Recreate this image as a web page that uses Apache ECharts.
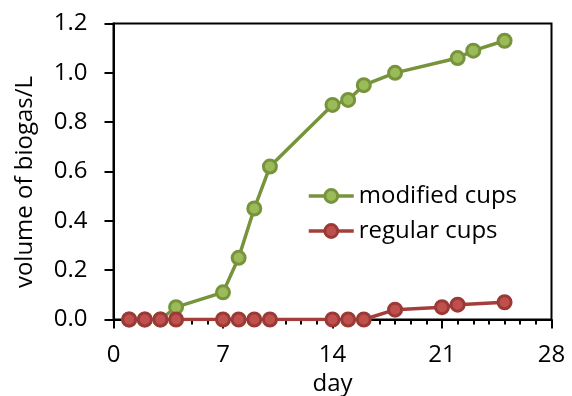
<!DOCTYPE html>
<html><head><meta charset="utf-8">
<script src="https://cdn.jsdelivr.net/npm/echarts@6/dist/echarts.min.js"></script>
<style>html,body{margin:0;padding:0;background:#fff}#c{width:572px;height:396px}</style>
</head><body><div id="c"></div>
<script>
const modifiedDays = [1, 2, 3, 4, 7, 8, 9, 10, 14, 15, 16, 18, 22, 23, 25];
const modifiedVals = [0, 0, 0, 0.05, 0.11, 0.25, 0.45, 0.62, 0.87, 0.89, 0.95, 1.00, 1.06, 1.09, 1.13];
const regularDays = [1, 2, 3, 4, 7, 8, 9, 10, 14, 15, 16, 18, 21, 22, 25];
const regularVals = [0, 0, 0, 0, 0, 0, 0, 0, 0, 0, 0, 0.04, 0.05, 0.06, 0.07];
const seriesNames = ['modified cups', 'regular cups'];
const xTitle = 'day';
const yTitle = 'volume of biogas/L';

const FONT = 'Open Sans';
const chart = echarts.init(document.getElementById('c'));
const pair = (d, v) => d.map((x, i) => [x, v[i]]);
chart.setOption({
  animation: false,
  grid: { left: 113.5, right: 20.5, top: 23.5, bottom: 76.5, show: true, borderColor: '#000', borderWidth: 2,
          containLabel: false, outerBoundsMode: 'none' },
  legend: {
    orient: 'vertical', left: 307, top: 184, itemWidth: 45, itemHeight: 16, itemGap: 11, padding: 0,
    lineStyle: { width: 3.5 },
    itemStyle: { borderWidth: 3 },
    textStyle: { fontFamily: FONT, fontSize: 24, color: '#000' },
    data: seriesNames
  },
  xAxis: {
    type: 'value', min: 0, max: 28, interval: 7,
    name: xTitle, nameLocation: 'middle', nameGap: 50,
    nameTextStyle: { fontFamily: FONT, fontSize: 24, color: '#000' },
    axisLine: { show: true, onZero: false, lineStyle: { color: '#000', width: 2 } },
    axisTick: { show: true, inside: false, length: 9, lineStyle: { color: '#000', width: 2 } },
    minorTick: { show: true, splitNumber: 7, length: 5, lineStyle: { color: '#000', width: 2 } },
    axisLabel: { margin: 24, fontFamily: FONT, fontSize: 24, color: '#000' },
    splitLine: { show: false }
  },
  yAxis: {
    type: 'value', min: 0, max: 1.2, interval: 0.2,
    name: yTitle, nameLocation: 'middle', nameGap: 76, nameRotate: 90,
    nameTextStyle: { fontFamily: FONT, fontSize: 24, color: '#000', padding: [0, 21, 0, 0] },
    axisLine: { show: true, lineStyle: { color: '#000', width: 2 } },
    axisTick: { show: true, inside: false, length: 9, lineStyle: { color: '#000', width: 2 } },
    axisLabel: { margin: 26, fontFamily: FONT, fontSize: 24, color: '#000', formatter: v => v.toFixed(1) },
    splitLine: { show: false }
  },
  series: [
    {
      name: seriesNames[0], type: 'line', data: pair(modifiedDays, modifiedVals),
      symbol: 'circle', symbolSize: 13,
      lineStyle: { color: '#77933C', width: 3.5 },
      itemStyle: { color: '#9BBB59', borderColor: '#77933C', borderWidth: 3 }
    },
    {
      name: seriesNames[1], type: 'line', data: pair(regularDays, regularVals),
      symbol: 'circle', symbolSize: 13,
      lineStyle: { color: '#A33E3B', width: 3.5 },
      itemStyle: { color: '#C0504D', borderColor: '#9B3936', borderWidth: 3 }
    }
  ]
});
</script></body></html>
